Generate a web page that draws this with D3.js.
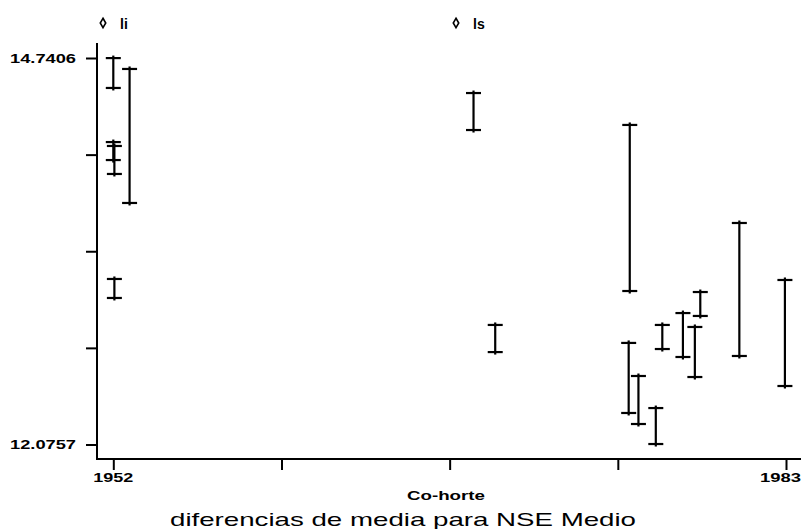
<!DOCTYPE html>
<html><head><meta charset="utf-8">
<script src="https://cdn.jsdelivr.net/npm/d3@7"></script>
<style>
html,body{margin:0;padding:0;background:#fff;}
svg{display:block;}
text{font-family:"Liberation Sans",Arial,sans-serif;fill:#000;}
</style></head>
<body>
<svg id="chart" width="801" height="529"></svg>
<script>
// Data: cohorts and lower / upper limits of mean difference
const cohorte = [1952.0, 1952.75, 1952.0, 1952.05, 1952.05, 1968.6, 1969.6, 1975.8, 1975.75, 1976.2, 1977.0, 1977.3, 1978.25, 1978.8, 1979.05, 1980.85, 1982.95];
const li = [14.534, 13.741, 14.037, 13.941, 13.086, 14.244, 12.713, 13.134, 12.293, 12.217, 12.079, 12.734, 12.679, 12.541, 12.962, 12.686, 12.479];
const ls = [14.740, 14.665, 14.161, 14.134, 13.217, 14.499, 12.900, 14.279, 12.776, 12.548, 12.327, 12.900, 12.982, 12.886, 13.127, 13.603, 13.210];
const yTickLabels = ["12.0757", "14.7406"];
const xTickLabels = ["1952", "1983"];
const legendLabels = ["li", "ls"];
const xTitle = "Co-horte";
const chartTitle = "diferencias de media para NSE Medio";

const svg = d3.select("#chart");
const yMin = 12.0757, yMax = 14.7406, xMin = 1952, xMax = 1983;
const x = d3.scaleLinear().domain([xMin, xMax]).range([113.3, 786]);
const y = d3.scaleLinear().domain([yMin, yMax]).range([444.5, 58]);

const xTicks = d3.range(5).map(i => xMin + i * (xMax - xMin) / 4);
const yTicks = d3.range(5).map(i => yMin + i * (yMax - yMin) / 4);

// axes lines
const axisLeftX = 97, axisBottomY = 459;
svg.append("line").attr("x1", axisLeftX).attr("x2", axisLeftX).attr("y1", 43).attr("y2", axisBottomY + 1)
  .attr("stroke", "#000").attr("stroke-width", 2);
svg.append("line").attr("x1", axisLeftX - 1).attr("x2", 801).attr("y1", axisBottomY).attr("y2", axisBottomY)
  .attr("stroke", "#000").attr("stroke-width", 2);

// y ticks
const yAxis = d3.axisLeft(y).tickValues(yTicks).tickSize(11).tickFormat(() => "");
const gy = svg.append("g").attr("transform", `translate(${axisLeftX},0)`).call(yAxis);
gy.select(".domain").remove();
gy.selectAll(".tick line").attr("stroke", "#000").attr("stroke-width", 2);
[yMin, yMax].forEach((v, i) => {
  svg.append("text").attr("x", 76).attr("y", y(v)).attr("dy", "0.35em")
    .attr("text-anchor", "end").attr("font-size", 13).attr("font-weight", "bold")
    .attr("textLength", 66).attr("lengthAdjust", "spacingAndGlyphs")
    .text(yTickLabels[i]);
});

// x ticks
const xAxis = d3.axisBottom(x).tickValues(xTicks).tickSize(11).tickFormat(() => "");
const gx = svg.append("g").attr("transform", `translate(0,${axisBottomY})`).call(xAxis);
gx.select(".domain").remove();
gx.selectAll(".tick line").attr("stroke", "#000").attr("stroke-width", 2);
svg.append("text").attr("x", x(xMin)).attr("y", 482).attr("text-anchor", "middle")
  .attr("font-size", 13).attr("font-weight", "bold").attr("textLength", 40).attr("lengthAdjust", "spacingAndGlyphs")
  .text(xTickLabels[0]);
svg.append("text").attr("x", 801).attr("y", 482).attr("text-anchor", "end")
  .attr("font-size", 13).attr("font-weight", "bold").attr("textLength", 41).attr("lengthAdjust", "spacingAndGlyphs")
  .text(xTickLabels[1]);

// titles
svg.append("text").attr("x", 446).attr("y", 500).attr("text-anchor", "middle")
  .attr("font-size", 13).attr("font-weight", "bold").attr("textLength", 78).attr("lengthAdjust", "spacingAndGlyphs")
  .text(xTitle);
svg.append("text").attr("x", 403).attr("y", 526).attr("text-anchor", "middle")
  .attr("font-size", 19).attr("textLength", 466).attr("lengthAdjust", "spacingAndGlyphs")
  .text(chartTitle);

// legend
const legendX = [103, 456];
legendLabels.forEach((lab, i) => {
  svg.append("path").attr("d", d3.symbol(d3.symbolDiamond, 26)())
    .attr("transform", `translate(${legendX[i]},23)`)
    .attr("fill", "#fff").attr("stroke", "#000").attr("stroke-width", 1.6);
  svg.append("text").attr("x", legendX[i] + 17).attr("y", 29).attr("font-size", 14).attr("font-weight", "bold")
    .text(lab);
});

// error bars
const bars = cohorte.map((c, i) => ({c, lo: li[i], hi: ls[i]}));
const g = svg.append("g");
const capHalf = 7.5, ext = 2.5;
bars.forEach(d => {
  const cx = x(d.c);
  g.append("line").attr("x1", cx).attr("x2", cx).attr("y1", y(d.hi) - ext).attr("y2", y(d.lo) + ext)
    .attr("stroke", "#000").attr("stroke-width", 2.2);
  [d.hi, d.lo].forEach(v => {
    g.append("line").attr("x1", cx - capHalf).attr("x2", cx + capHalf).attr("y1", y(v)).attr("y2", y(v))
      .attr("stroke", "#000").attr("stroke-width", 2.2);
  });
});
</script>
</body></html>
